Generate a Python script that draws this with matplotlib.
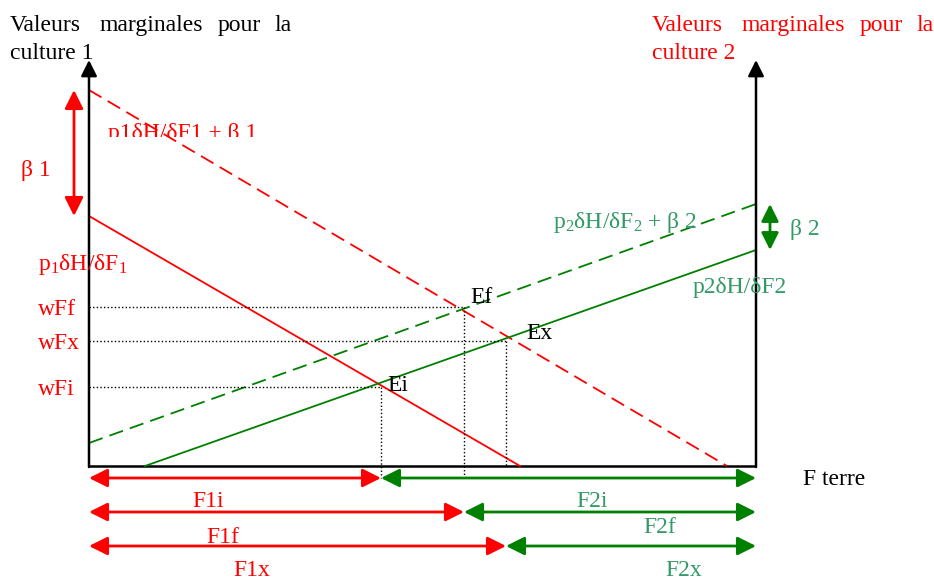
import matplotlib
matplotlib.use("Agg")
import matplotlib.pyplot as plt
from matplotlib.transforms import Bbox, TransformedBbox

plt.rcParams['font.family'] = ['Liberation Serif', 'DejaVu Serif']
plt.rcParams['mathtext.fontset'] = 'custom'
plt.rcParams['mathtext.rm'] = 'Liberation Serif'
plt.rcParams['mathtext.it'] = 'Liberation Serif:italic'

# ---- data (diagram units: x = land share, y = marginal value) ----
x_total = 667            # right axis position
y_top = 406              # axis arrow tip
# curve 1 (culture 1, decreasing)
c1_x = [0, 431]
c1_y = [250, 0]
c1b_x = [0, 638]         # with beta1
c1b_y = [376, 0]
# curve 2 (culture 2, increasing)
c2_x = [56, 667]
c2_y = [0, 216]
c2b_x = [0, 667]         # with beta2
c2b_y = [23, 262]
# equilibria
eq_names = ['Ei', 'Ef', 'Ex']
eq_x = [292, 375, 417]
eq_y = [79, 159, 125]
w_labels = ['wFi', 'wFf', 'wFx']
# allocation arrow rows
row_y = [-12, -46, -80]
row_split = [292, 375, 417]
row_lab1 = ['F1i', 'F1f', 'F1x']
row_lab2 = ['F2i', 'F2f', 'F2x']

RED = '#ff0000'
GREEN = '#008000'
GTXT = '#339966'
FS = 17

fig = plt.figure(figsize=(9.34, 5.8), dpi=100)
ax = fig.add_axes([0, 0, 1, 1])
ax.set_xlim(-89, 845)
ax.set_ylim(-114, 466)
ax.axis('off')

def T(x, y, s, color, **kw):
    return ax.text(x, y, s, fontsize=FS, color=color, va='baseline', ha='left', **kw)

# axes
ax.plot([0, x_total], [0, 0], color='black', lw=1.8, solid_capstyle='butt')
for xa in (0, x_total):
    ax.annotate('', xy=(xa, y_top), xytext=(xa, -1),
                arrowprops=dict(arrowstyle='-|>', color='black', lw=1.8,
                                mutation_scale=24, shrinkA=0, shrinkB=0))

# curves
ax.plot(c1_x, c1_y, color=RED, lw=1.3)
ax.plot(c1b_x, c1b_y, color=RED, lw=1.3, linestyle=(0, (8, 4)))
ax.plot(c2_x, c2_y, color=GREEN, lw=1.3)
ax.plot(c2b_x, c2b_y, color=GREEN, lw=1.3, linestyle=(0, (8, 4)))

# dotted guide lines
dot = (0, (1, 1.6))
for i, (ex, ey) in enumerate(zip(eq_x, eq_y)):
    ax.plot([0, ex], [ey, ey], color='black', lw=1.0, linestyle=dot)
    ax.plot([ex, ex], [ey, -12 if i < 2 else 0], color='black', lw=1.0, linestyle=dot)

# equilibrium labels
eq_off = [(6, -4), (6, 4), (20, 2)]
for n, ex, ey, (dx, dy) in zip(eq_names, eq_x, eq_y, eq_off):
    T(ex + dx, ey + dy, n, 'black')

# w labels
for yv, lab in zip(eq_y, w_labels):
    T(-51, yv - 8, lab, RED)

# beta arrows
ax.annotate('', xy=(-15, c1b_y[0]), xytext=(-15, c1_y[0]),
            arrowprops=dict(arrowstyle='<|-|>', color=RED, lw=2,
                            mutation_scale=28, shrinkA=0, shrinkB=0))
T(-68, 290, 'β 1', RED)
ax.annotate('', xy=(681, c2b_y[1]), xytext=(681, c2_y[1]),
            arrowprops=dict(arrowstyle='<|-|>', color=GREEN, lw=2,
                            mutation_scale=26, shrinkA=0, shrinkB=0))
T(701, 231, 'β 2', GTXT)

# curve labels
t = T(19, 327, 'p1δH/δF1 + β 1', RED)
t.set_clip_box(TransformedBbox(Bbox([[-89, 329], [845, 466]]), ax.transData))
t.set_clip_on(True)
T(-51, 196, r'p$_{\mathrm{1}}$δH/δF$_{\mathrm{1}}$', RED)
T(464, 238, r'p$_{\mathrm{2}}$δH/δF$_{\mathrm{2}}$ + β 2', GTXT)
T(604, 173, 'p2δH/δF2', GTXT)

# titles (justified words)
t_words = ['Valeurs', 'marginales', 'pour', 'la']
t1_x = [-79, 10, 129, 185]
for w, xw in zip(t_words, t1_x):
    T(xw, 435, w, 'black')
T(-79, 407, 'culture 1', 'black')
t2_x = [563, 652, 771, 827]
for w, xw in zip(t_words, t2_x):
    T(xw, 435, w, RED)
T(563, 407, 'culture 2', RED)

T(714, -19, 'F terre', 'black')

# allocation arrows
lab1_pos = [(103, -41), (117, -77), (144, -110)]
lab2_pos = [(487, -41), (554, -67), (576, -110)]
for yr, xs, l1, l2, p1, p2 in zip(row_y, row_split, row_lab1, row_lab2, lab1_pos, lab2_pos):
    ax.annotate('', xy=(0, yr), xytext=(xs, yr),
                arrowprops=dict(arrowstyle='<|-|>', color=RED, lw=2,
                                mutation_scale=28, shrinkA=0, shrinkB=0))
    ax.annotate('', xy=(xs, yr), xytext=(x_total, yr),
                arrowprops=dict(arrowstyle='<|-|>', color=GREEN, lw=2,
                                mutation_scale=28, shrinkA=0, shrinkB=0))
    T(p1[0], p1[1], l1, RED)
    T(p2[0], p2[1], l2, GTXT)

fig.savefig('out.png', dpi=100)
